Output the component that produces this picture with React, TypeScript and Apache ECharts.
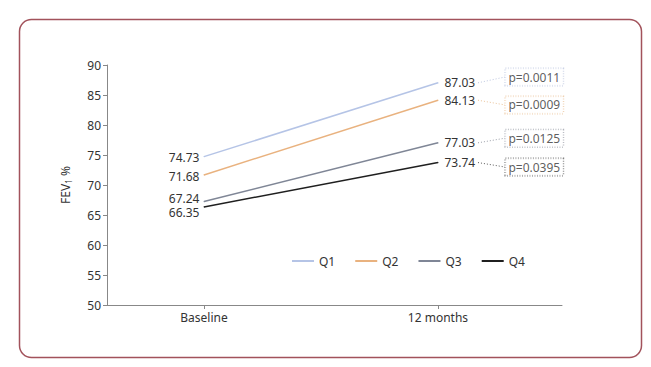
import React, { useEffect, useRef } from "react";
import * as echarts from "echarts";

const categories = ["Baseline", "12 months"];
const seriesNames = ["Q1", "Q2", "Q3", "Q4"];
const baselineValues = [74.73, 71.68, 67.24, 66.35];
const monthValues = [87.03, 84.13, 77.03, 73.74];
const pLabels = ["p=0.0011", "p=0.0009", "p=0.0125", "p=0.0395"];
const pAnchorY = [88.0, 83.35, 77.8, 73.0];
const colors = ["#b5c4e6", "#e9b27f", "#7f8696", "#1f1f1f"];
const leaderColors = ["#bcc6e0", "#ebc399", "#9a9ea8", "#5a5a5a"];
const yTicks = { min: 50, max: 90, interval: 5 };
// vertical label nudges for the baseline labels (layout only, px)
const startLabelDy = [1, 2, -3.5, 6];

const FONT = "'Noto Sans', sans-serif";

export default function App() {
  const ref = useRef<HTMLDivElement>(null);
  useEffect(() => {
    if (!ref.current) return;
    const chart = echarts.init(ref.current, undefined, { renderer: "svg" });
    const lineSeries = seriesNames.map((name, i) => ({
      name,
      type: "line",
      symbol: "circle",
      symbolSize: 1,
      showSymbol: true,
      color: colors[i],
      itemStyle: { color: colors[i] },
      lineStyle: { width: 1.5, color: colors[i] },
      data: [
        { value: [0, baselineValues[i]], label: { show: true, position: "left", distance: 4 } },
        { value: [1, monthValues[i]], label: { show: true, position: "right", distance: 6 } },
      ],
      label: {
        show: true,
        color: "#333",
        fontSize: 12,
        lineHeight: 13,
        fontFamily: FONT,
        formatter: (p: any) => Number(p.value[1]).toFixed(2),
      },
      labelLayout: (params: any) => (params.dataIndex === 0 ? { dy: startLabelDy[i] } : {}),
      z: 3,
    }));
    const leaderSeries = seriesNames.map((name, i) => ({
      name: name + "-leader",
      type: "line",
      symbol: "none",
      silent: true,
      lineStyle: { width: 1, type: [1, 2], color: leaderColors[i] },
      data: [
        [1.171, monthValues[i]],
        [1.286, pAnchorY[i]],
      ],
      z: 2,
    }));
    const pSeries = {
      name: "p",
      type: "scatter",
      symbolSize: 1,
      itemStyle: { color: "rgba(0,0,0,0)" },
      silent: true,
      label: { show: true },
      data: pLabels.map((t, i) => ({
        value: [1.286, pAnchorY[i]],
        label: {
          show: true,
          position: "right",
          distance: 0,
          formatter: t,
          color: "#333",
          fontSize: 12,
          fontFamily: FONT,
          borderColor: leaderColors[i],
          borderWidth: 1,
          borderType: [1, 1.5],
          padding: [3, 3, 2, 3],
          backgroundColor: "#fff",
        },
      })),
      z: 4,
    };
    chart.setOption({
      animation: false,
      backgroundColor: "#fff",
      textStyle: { fontFamily: FONT },
      graphic: [
        {
          type: "rect",
          left: 17,
          top: 17,
          shape: { width: 622, height: 338, r: 12 },
          style: { fill: "none", stroke: "#a2525b", lineWidth: 1.5 },
          silent: true,
        },
      ],
      grid: { left: 107, right: 89, top: 65, bottom: 62, containLabel: false },
      legend: {
        data: seriesNames,
        left: 287,
        top: 250,
        icon: "rect",
        itemWidth: 22,
        itemHeight: 2,
        itemGap: 20,
        textStyle: { fontSize: 12, color: "#333", fontFamily: FONT },
      },
      xAxis: {
        type: "value",
        min: -0.4145,
        max: 1.53,
        splitLine: { show: false },
        axisLine: { onZero: false, lineStyle: { color: "#888" } },
        axisTick: { show: true, length: 4, customValues: [0, 1], lineStyle: { color: "#888" } },
        axisLabel: {
          customValues: [0, 1],
          color: "#333",
          fontSize: 12,
          fontFamily: FONT,
          margin: 6,
          formatter: (v: number) => categories[Math.round(v)] ?? "",
        },
      },
      yAxis: {
        type: "value",
        min: yTicks.min,
        max: yTicks.max,
        interval: yTicks.interval,
        name: "FEV{sub|1} %",
        nameLocation: "middle",
        nameGap: 35,
        nameRotate: 90,
        nameTextStyle: {
          color: "#333",
          fontSize: 12,
          fontFamily: FONT,
          rich: { sub: { fontSize: 8, verticalAlign: "bottom", padding: [6, 0, 0, 0], color: "#333", fontFamily: FONT } },
        },
        splitLine: { show: false },
        axisLine: { show: true, onZero: false, lineStyle: { color: "#888" } },
        axisTick: { show: true, length: 4, lineStyle: { color: "#888" } },
        axisLabel: { color: "#333", fontSize: 12, fontFamily: FONT, margin: 6 },
      },
      series: [...leaderSeries, ...lineSeries, pSeries],
    });
    return () => chart.dispose();
  }, []);
  return (
    <div
      ref={ref}
      style={{ position: "fixed", left: 0, top: 0, width: 651, height: 367, background: "#fff" }}
    />
  );
}
